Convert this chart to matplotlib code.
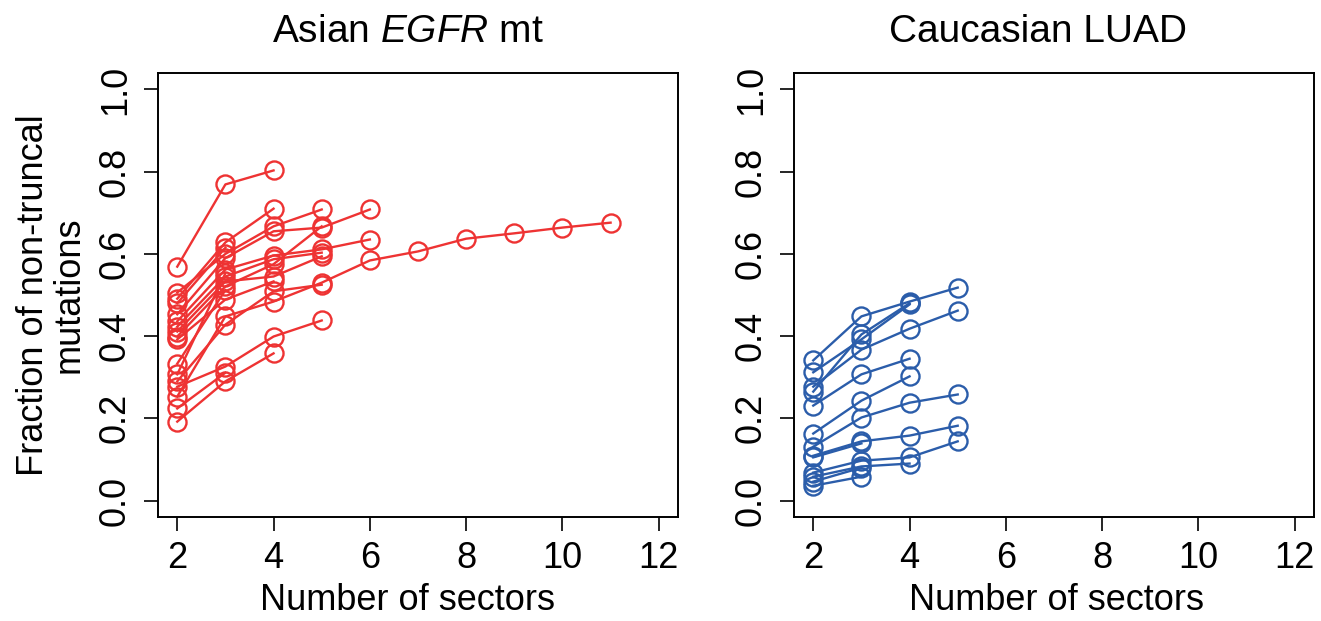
import matplotlib
matplotlib.use('Agg')
import matplotlib.pyplot as plt

plt.rcParams['font.family'] = ['Liberation Sans', 'DejaVu Sans']
plt.rcParams['mathtext.fontset'] = 'custom'
plt.rcParams['mathtext.rm'] = 'Liberation Sans'
plt.rcParams['mathtext.it'] = 'Liberation Sans:italic'

# Asian EGFR mt: fraction of non-truncal mutations per tumour, starting at 2 sectors
asian_series = [
    [0.569, 0.769, 0.803],
    [0.192, 0.290, 0.358],
    [0.224, 0.311],
    [0.277, 0.326, 0.399, 0.438],
    [0.253, 0.448, 0.484, 0.530, 0.584, 0.606, 0.637, 0.650, 0.664, 0.676],
    [0.290, 0.428, 0.509, 0.525],
    [0.491, 0.628, 0.710],
    [0.506, 0.600, 0.667, 0.708],
    [0.453, 0.590, 0.655, 0.664, 0.708],
    [0.436, 0.562, 0.596, 0.611, 0.635],
    [0.423, 0.545, 0.587, 0.603],
    [0.411, 0.533, 0.545, 0.594],
    [0.399, 0.521, 0.575, 0.667],
    [0.392, 0.489, 0.533],
    [0.333, 0.512],
    [0.480, 0.615],
    [0.307, 0.553],
]

# Caucasian LUAD
cauc_series = [
    [0.341, 0.448, 0.484, 0.518],
    [0.312, 0.392, 0.477],
    [0.277, 0.367, 0.418, 0.462],
    [0.265, 0.404, 0.480],
    [0.231, 0.307, 0.345],
    [0.163, 0.243, 0.302],
    [0.131, 0.202, 0.238, 0.258],
    [0.109, 0.144, 0.158, 0.182],
    [0.105, 0.139],
    [0.068, 0.097, 0.105, 0.144],
    [0.058, 0.083, 0.090],
    [0.036, 0.058],
    [0.046, 0.080],
]

x_ticks = [2, 4, 6, 8, 10, 12]
y_ticks = [0.0, 0.2, 0.4, 0.6, 0.8, 1.0]

W, H = 1321, 621
fig = plt.figure(figsize=(W / 100, H / 100), dpi=100)

FS = 26


def panel(left_px, series, color, title, title_x, xlab_x):
    ax = fig.add_axes([left_px / W, (H - 517) / H, 520 / W, 444 / H])
    for ys in series:
        xs = list(range(2, 2 + len(ys)))
        ax.plot(xs, ys, color=color, lw=1.7, marker='o', markersize=13,
                markerfacecolor='none', markeredgecolor=color, markeredgewidth=1.7)
    ax.set_xlim(1.6, 12.4)
    ax.set_ylim(-0.04, 1.04)
    ax.set_xticks(x_ticks)
    ax.set_xticklabels([str(t) for t in x_ticks])
    ax.set_yticks(y_ticks)
    ax.set_yticklabels([f'{t:.1f}' for t in y_ticks], rotation=90, va='center')
    ax.tick_params(axis='both', labelsize=FS, length=10, width=1.2, direction='out')
    ax.tick_params(axis='x', pad=7)
    ax.tick_params(axis='y', pad=8)
    for s in ax.spines.values():
        s.set_linewidth(1.4)
    ax.set_title(title, fontsize=28, pad=22, x=title_x)
    ax.set_xlabel('Number of sectors', fontsize=FS, labelpad=5, x=xlab_x)
    return ax


ax1 = panel(158, asian_series, '#EE3333', r'Asian $\mathit{EGFR}$ mt', 0.48, 0.48)
ax1.set_ylabel('Fraction of non-truncal\nmutations', fontsize=FS, labelpad=8,
               linespacing=1.05)
ax2 = panel(794, cauc_series, '#2B5DAA', 'Caucasian LUAD', 0.47, 0.505)

fig.savefig('out.png', dpi=100)
